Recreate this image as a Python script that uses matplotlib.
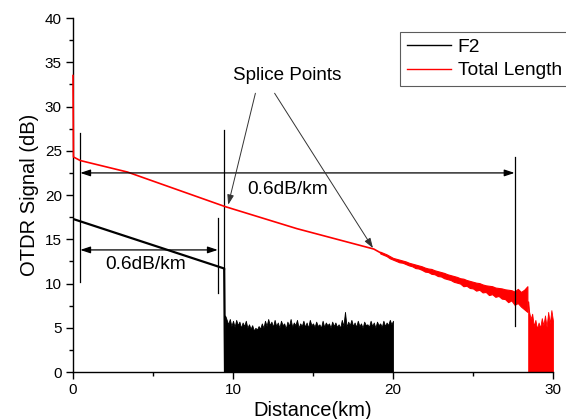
import matplotlib
matplotlib.use('Agg')
import matplotlib.pyplot as plt

plt.rcParams['font.family'] = ['Liberation Sans', 'DejaVu Sans']

# F2 trace (km, dB)
f2_x = [0.0, 9.45, 9.5]
f2_y = [17.3, 11.7, 0.0]

# F2 noise floor after the end of the fibre (top of the noise)
f2_noise_x = [9.5, 9.55, 9.7, 9.8, 9.9, 10.0, 10.1, 10.2, 10.3, 10.4, 10.5,
              10.6, 10.7, 10.8, 10.9, 11.0, 11.1, 11.2, 11.3, 11.4, 11.5,
              11.6, 11.7, 11.8, 11.9, 12.0, 12.1, 12.2, 12.3, 12.4, 12.5,
              12.6, 12.7, 12.8, 12.9, 13.0, 13.1, 13.2, 13.3, 13.4, 13.5,
              13.6, 13.7, 13.8, 13.9, 14.0, 14.1, 14.2, 14.3, 14.4, 14.5,
              14.6, 14.7, 14.8, 14.9, 15.0, 15.1, 15.2, 15.3, 15.4, 15.5,
              15.6, 15.7, 15.8, 15.9, 16.0, 16.1, 16.2, 16.3, 16.4, 16.5,
              16.6, 16.7, 16.8, 16.9, 17.0, 17.1, 17.2, 17.3, 17.4, 17.5,
              17.6, 17.7, 17.8, 17.9, 18.0, 18.1, 18.2, 18.3, 18.4, 18.5,
              18.6, 18.7, 18.8, 18.9, 19.0, 19.1, 19.2, 19.3, 19.4, 19.5,
              19.6, 19.7, 19.8, 19.9, 20.0]
f2_noise_top = [6.4, 6.2, 5.4, 6.0, 5.2, 5.8, 5.1, 5.9, 5.3, 5.7, 5.0,
                5.6, 5.2, 5.8, 5.0, 5.4, 4.9, 5.3, 4.7, 5.0, 4.8,
                5.2, 4.9, 5.5, 5.0, 5.8, 5.2, 6.0, 5.3, 5.7, 5.1,
                5.9, 5.2, 5.6, 5.0, 5.8, 5.3, 5.5, 4.9, 5.7, 5.2,
                6.0, 5.1, 5.6, 5.3, 5.9, 5.0, 5.5, 5.2, 5.8, 5.1,
                5.6, 5.0, 5.9, 5.3, 5.5, 5.1, 5.7, 5.2, 5.4, 5.0,
                5.8, 5.1, 5.6, 5.3, 5.5, 5.0, 5.7, 5.2, 5.6, 5.1,
                5.4, 5.0, 5.9, 5.2, 6.8, 5.1, 5.7, 5.3, 5.9, 5.2,
                5.6, 5.1, 5.8, 5.2, 5.5, 5.0, 5.7, 5.3, 5.4, 5.1,
                5.8, 5.2, 5.6, 5.0, 5.7, 5.3, 5.5, 5.1, 5.8, 5.2,
                5.6, 5.3, 5.9, 5.4, 5.8]

# Total length trace, clean part
tot_x = [0.0, 0.03, 0.45, 3.4, 9.5, 14.0, 18.8, 19.2]
tot_y = [33.5, 24.3, 23.9, 22.6, 18.7, 16.2, 13.9, 13.5]

# Total length trace, noisy part (upper / lower edge of the trace)
band_x = [19.2, 19.4, 19.6, 19.8, 20.0, 20.2, 20.4, 20.6, 20.8, 21.0,
          21.2, 21.4, 21.6, 21.8, 22.0, 22.2, 22.4, 22.6, 22.8, 23.0,
          23.2, 23.4, 23.6, 23.8, 24.0, 24.2, 24.4, 24.6, 24.8, 25.0,
          25.2, 25.4, 25.6, 25.8, 26.0, 26.2, 26.4, 26.6, 26.8, 27.0,
          27.2, 27.4, 27.6, 27.8, 28.0, 28.2, 28.4]
band_hi = [13.6, 13.45, 13.3, 13.1, 12.9, 12.8, 12.7, 12.6, 12.5, 12.35,
           12.25, 12.15, 12.05, 11.95, 11.8, 11.7, 11.65, 11.5, 11.4, 11.3,
           11.2, 11.05, 10.95, 10.85, 10.75, 10.6, 10.55, 10.4, 10.3, 10.2,
           10.1, 10.05, 9.9, 9.8, 9.75, 9.7, 9.55, 9.5, 9.45, 9.35,
           9.3, 9.25, 9.1, 9.4, 9.05, 9.3, 9.7]
band_lo = [13.4, 13.25, 13.1, 12.85, 12.7, 12.55, 12.4, 12.35, 12.2, 12.05,
           11.95, 11.75, 11.7, 11.55, 11.35, 11.3, 11.1, 11.05, 10.85, 10.8,
           10.6, 10.5, 10.4, 10.2, 10.1, 10.0, 9.7, 9.75, 9.5, 9.45,
           9.2, 9.3, 9.0, 9.05, 8.7, 8.8, 8.5, 8.6, 8.3, 8.25,
           7.9, 8.1, 7.6, 7.8, 7.4, 7.1, 6.8]

# Total length noise floor after the fibre end
tail_x = [28.45, 28.5, 28.6, 28.7, 28.8, 28.9, 29.0, 29.1, 29.2, 29.3,
          29.4, 29.5, 29.6, 29.7, 29.8, 29.9, 30.0]
tail_top = [8.0, 6.9, 6.0, 6.6, 5.2, 5.9, 4.9, 5.6, 5.0, 6.1,
            5.3, 6.4, 5.1, 6.8, 5.5, 7.0, 5.8]

fig = plt.figure(figsize=(5.66, 4.19), dpi=100)
ax = fig.add_axes([0.129, 0.112, 0.848, 0.845])

ax.plot(f2_x, f2_y, color='black', lw=1.6, label='F2')
ax.fill_between(f2_noise_x, 0, f2_noise_top, color='black', lw=0.6)
ax.plot(tot_x, tot_y, color='red', lw=1.2, label='Total Length',
        zorder=3, clip_on=False)
ax.fill_between(band_x, band_lo, band_hi, color='red', lw=0.8)
ax.fill_between(tail_x, 0, tail_top, color='red', lw=0.6)

# markers / arrows
lc = 'black'
ax.plot([0.45, 0.45], [10.2, 27.0], color=lc, lw=0.9)
ax.plot([9.05, 9.05], [8.9, 17.4], color=lc, lw=0.9)
ax.plot([9.45, 9.45], [11.7, 27.3], color=lc, lw=0.9)
ax.plot([27.6, 27.6], [5.2, 24.3], color=lc, lw=0.9)
arr = dict(arrowstyle='<|-|>,head_length=0.6,head_width=0.2', color=lc,
           lw=0.9, shrinkA=0, shrinkB=0)
ax.annotate('', xy=(0.45, 22.5), xytext=(27.6, 22.5), arrowprops=arr)
ax.annotate('', xy=(0.45, 13.8), xytext=(9.05, 13.8), arrowprops=arr)
ax.text(13.4, 20.6, '0.6dB/km', fontsize=13.8, ha='center', va='center')
ax.text(4.55, 12.2, '0.6dB/km', fontsize=13.8, ha='center', va='center')

sp = dict(arrowstyle='-|>,head_length=0.6,head_width=0.2', color='#333333',
          lw=0.7, shrinkA=0, shrinkB=0)
ax.text(13.4, 33.5, 'Splice Points', fontsize=13.6, ha='center', va='center')
ax.annotate('', xy=(9.7, 18.9), xytext=(11.4, 31.5), arrowprops=sp)
ax.annotate('', xy=(18.75, 14.0), xytext=(12.6, 31.5), arrowprops=sp)

ax.set_xlim(0, 30)
ax.set_ylim(0, 40)
ax.set_xticks([0, 10, 20, 30])
ax.set_xticks([5, 15, 25], minor=True)
ax.set_yticks(range(0, 41, 5))
ax.set_yticks([2.5 + 5 * i for i in range(8)], minor=True)
ax.tick_params(which='major', direction='out', length=5, width=1, labelsize=11, pad=3)
ax.tick_params(which='minor', direction='out', length=3, width=1)
ax.spines['top'].set_visible(False)
ax.spines['right'].set_visible(False)
ax.spines['left'].set_linewidth(1)
ax.spines['bottom'].set_linewidth(1)

ax.set_xlabel('Distance(km)', fontsize=14.5, labelpad=3)
ax.set_ylabel('OTDR Signal (dB)', fontsize=14.5, labelpad=4)

leg = ax.legend(loc='upper left', bbox_to_anchor=(400 / 566, 1 - 32 / 419),
                bbox_transform=fig.transFigure, fontsize=13.8, frameon=True,
                fancybox=False, borderaxespad=0, handlelength=2.3,
                handletextpad=0.35, labelspacing=0.3, borderpad=0.35)
leg.get_frame().set_edgecolor('#333333')
leg.get_frame().set_linewidth(0.8)
for h in leg.get_lines():
    h.set_linewidth(1.0)

fig.savefig('out.png', dpi=100)
